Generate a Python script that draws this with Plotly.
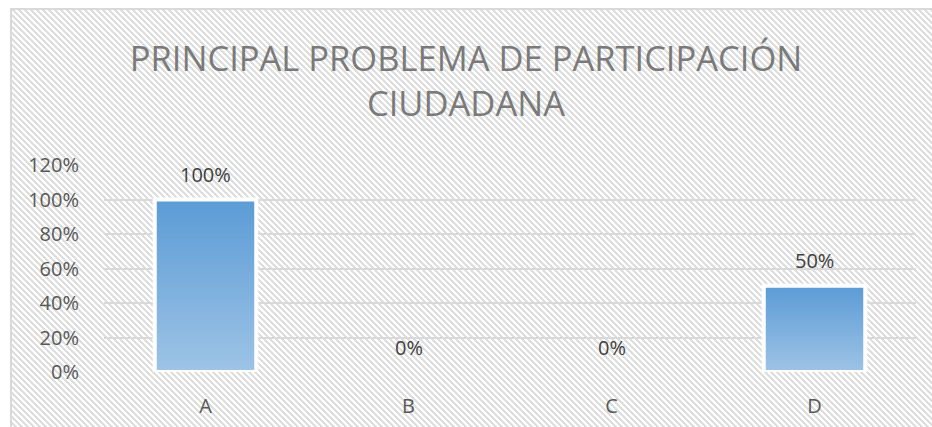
import base64
import plotly.graph_objects as go

# Survey result: share of respondents naming each option
categories = ["A", "B", "C", "D"]
values = [1.00, 0.00, 0.00, 0.50]
tick_values = [0, 0.2, 0.4, 0.6, 0.8, 1.0, 1.2]
title_text = "PRINCIPAL PROBLEMA DE PARTICIPACIÓN<br>CIUDADANA"

W, H = 932, 427
ML, MR, MT, MB = 104, 16, 165, 55
PW, PH = W - ML - MR, H - MT - MB

FONT = "Open Sans"
TOP_RGB = (91, 155, 213)
BOTTOM_RGB = (157, 195, 230)
STEPS = 40


def blend(t):
    r, g, b = (round(lo + (hi - lo) * t) for lo, hi in zip(BOTTOM_RGB, TOP_RGB))
    return f"rgb({r},{g},{b})"


# Hatched chart-area background with a thin frame, as an inline SVG
bx, by = 10, 8
bw, bh = W - bx, H - by
cells = "".join(
    f"<rect x='{(r + k) % 6}' y='{r}' width='1' height='1' fill='#dedede'/>"
    for r in range(6) for k in range(3)
)
svg = (
    f"<svg xmlns='http://www.w3.org/2000/svg' width='{bw}' height='{bh}' "
    f"viewBox='0 0 {bw} {bh}' shape-rendering='crispEdges'>"
    f"<defs><pattern id='h' width='6' height='6' patternUnits='userSpaceOnUse'>{cells}</pattern></defs>"
    f"<rect width='{bw}' height='{bh}' fill='#ffffff'/>"
    f"<rect width='{bw}' height='{bh}' fill='url(#h)'/>"
    f"<path d='M1 {bh}V1H{bw}' stroke='#d9d9d9' stroke-width='2' fill='none'/>"
    "</svg>"
)
svg_uri = "data:image/svg+xml;base64," + base64.b64encode(svg.encode()).decode()

fig = go.Figure()

# Vertical gradient: stacked overlays, each starting a little higher and darker
for k in range(STEPS):
    f = k / STEPS
    fig.add_trace(go.Bar(
        x=categories,
        y=[v * (1 - f) for v in values],
        base=[v * f for v in values],
        marker=dict(color=blend(f), line=dict(width=0)),
        hoverinfo="skip",
        showlegend=False,
    ))

# White outline on top of the gradient (only where a bar exists)
fig.add_trace(go.Bar(
    x=categories,
    y=values,
    marker=dict(
        color="rgba(0,0,0,0)",
        line=dict(color="#ffffff", width=[4 if v > 0 else 0 for v in values]),
    ),
    hovertemplate="%{x}: %{y:.0%}<extra></extra>",
    showlegend=False,
))

for c, v in zip(categories, values):
    fig.add_annotation(
        x=c, y=v, text=f"{v:.0%}", showarrow=False,
        yanchor="middle", yshift=25,
        font=dict(family=FONT, size=20, color="#404040"),
    )

fig.update_layout(
    width=W, height=H,
    margin=dict(l=ML, r=MR, t=MT, b=MB, pad=0),
    paper_bgcolor="#ffffff",
    plot_bgcolor="rgba(0,0,0,0)",
    barmode="overlay",
    bargap=0.5,
    showlegend=False,
    title=dict(
        text=title_text,
        x=0.5, xref="container", xanchor="center",
        y=1 - 71 / H, yref="container", yanchor="middle",
        font=dict(family=FONT, size=34.5, color="#7a7a7a"),
    ),
    images=[dict(
        source=svg_uri,
        xref="paper", yref="paper",
        x=(bx - ML) / PW, y=(H - MB - by) / PH,
        sizex=bw / PW, sizey=bh / PH,
        xanchor="left", yanchor="top",
        sizing="stretch", layer="below",
    )],
    xaxis=dict(
        type="category", automargin=False,
        showgrid=False, showline=False, zeroline=False,
        ticks="outside", ticklen=16, tickcolor="rgba(0,0,0,0)",
        tickfont=dict(family=FONT, size=20, color="#595959"),
    ),
    yaxis=dict(
        range=[0, 1.2], automargin=False,
        tickvals=tick_values,
        tickformat=".0%",
        showgrid=True, gridcolor="#d9d9d9", gridwidth=1.5,
        zeroline=False, showline=False,
        ticks="outside", ticklen=20, tickcolor="rgba(0,0,0,0)",
        tickfont=dict(family=FONT, size=20, color="#595959"),
    ),
)

fig.write_html("out.html")
